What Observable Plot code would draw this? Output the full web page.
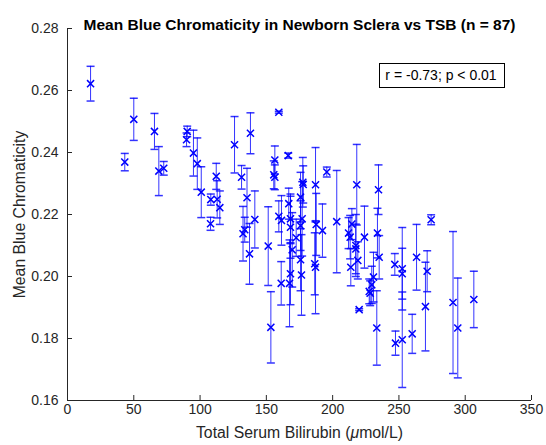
<!DOCTYPE html>
<html><head><meta charset="utf-8">
<script src="https://cdn.jsdelivr.net/npm/d3@7"></script>
<script src="https://cdn.jsdelivr.net/npm/@observablehq/plot@0.6"></script>
<style>html,body{margin:0;padding:0;background:#fff}svg{display:block}</style>
</head><body><div id="chart"></div>
<script>
// Total serum bilirubin (µmol/L)
const tsb = [17.4,43.2,50.0,65.6,68.9,72.6,90.3,89.8,95.0,97.9,
  100.9,108.1,112.2,112.9,114.9,107.9,126.0,131.3,138.0,135.4,
  141.3,132.4,133.7,137.3,151.4,153.4,159.4,156.4,155.6,156.4,
  159.4,161.4,161.2,166.5,166.9,168.2,168.2,169.5,172.5,167.5,
  168.2,175.8,177.5,177.8,177.0,175.8,175.8,176.5,187.1,187.6,
  186.5,187.1,195.6,192.3,203.1,218.2,212.0,213.2,214.5,217.5,
  217.5,219.0,213.7,224.0,220.0,227.6,229.5,230.8,234.6,233.8,
  235.1,233.3,246.9,252.5,252.5,247.4,252.5,263.3,260.0,274.3,
  271.3,270.0,290.8,294.4,306.5,228.3];
// Mean blue chromaticity
const chroma = [0.2622,0.2369,0.2507,0.2468,0.2340,0.2349,0.2468,0.2441,0.2398,0.2364,
  0.2272,0.2248,0.2323,0.2249,0.2222,0.2170,0.2425,0.2320,0.2462,0.2254,
  0.2184,0.2138,0.2151,0.2073,0.2098,0.1836,0.2530,0.2376,0.2328,0.2320,
  0.2194,0.2181,0.1978,0.2390,0.2235,0.2186,0.2159,0.2086,0.2125,0.1978,
  0.2009,0.2256,0.2304,0.2297,0.2186,0.2164,0.2054,0.2005,0.2296,0.2168,
  0.2041,0.2030,0.2337,0.2148,0.2177,0.2296,0.2140,0.2127,0.2169,0.2100,
  0.2089,0.2052,0.2030,0.2127,0.1893,0.1952,0.1973,0.1998,0.2280,0.2140,
  0.2062,0.1834,0.2039,0.2025,0.2009,0.1785,0.1796,0.2062,0.1815,0.2183,
  0.2017,0.1903,0.1916,0.1834,0.1926,0.1946];
// Error bar half-widths
const errHalf = [0.0056,0.0028,0.0068,0.0058,0.0079,0.0022,0.0017,0.0022,0.0074,0.0083,
  0.0082,0.0018,0.0042,0.0060,0.0054,0.0021,0.0091,0.0038,0.0066,0.0095,
  0.0092,0.0088,0.0040,0.0098,0.0127,0.0115,0.0003,0.0045,0.0045,0.0040,
  0.0050,0.0080,0.0070,0.0008,0.0050,0.0080,0.0100,0.0120,0.0060,0.0140,
  0.0100,0.0080,0.0080,0.0060,0.0120,0.0080,0.0100,0.0130,0.0120,0.0100,
  0.0100,0.0150,0.0016,0.0086,0.0165,0.0130,0.0050,0.0070,0.0050,0.0100,
  0.0080,0.0060,0.0060,0.0100,0.0003,0.0040,0.0060,0.0080,0.0080,0.0080,
  0.0070,0.0120,0.0035,0.0133,0.0082,0.0039,0.0154,0.0106,0.0063,0.0016,
  0.0066,0.0143,0.0229,0.0161,0.0091,0.0040];
const xTicks = [0,50,100,150,200,250,300,350];
const yTicks = [0.16,0.18,0.20,0.22,0.24,0.26,0.28];
const titleText = "Mean Blue Chromaticity in Newborn Sclera vs TSB (n = 87)";
const xLabel = "Total Serum Bilirubin (\u03bcmol/L)";
const yLabel = "Mean Blue Chromaticity";
const statText = "r = -0.73; p < 0.01";

const rows = tsb.map((x, i) => ({x, y: chroma[i], e: errHalf[i]}));
const blue = "#0000ff";
const axisColor = "#262626";
const cap = {draw(ctx, size) { const r = Math.sqrt(size / Math.PI); ctx.moveTo(-r, 0); ctx.lineTo(r, 0); }};

const W = 546, H = 445, mL = 67, mR = 15, mT = 28, mB = 45;
const plotW = W - mL - mR, plotH = H - mT - mB;

const chart = Plot.plot({
  width: W, height: H,
  marginLeft: mL, marginRight: mR, marginTop: mT, marginBottom: mB,
  style: {fontFamily: "'Liberation Sans', Arial, Helvetica, sans-serif", fontSize: "14px", background: "#fff"},
  x: {domain: [0, 350], axis: null},
  y: {domain: [0.16, 0.28], axis: null},
  marks: [
    Plot.ruleX(rows, {x: "x", y1: d => d.y - d.e, y2: d => d.y + d.e, stroke: blue, strokeOpacity: 0.8}),
    Plot.dot(rows, {x: "x", y: d => d.y - d.e, symbol: cap, r: 4, stroke: blue, strokeOpacity: 0.8, fill: "none"}),
    Plot.dot(rows, {x: "x", y: d => d.y + d.e, symbol: cap, r: 4, stroke: blue, strokeOpacity: 0.8, fill: "none"}),
    Plot.dot(rows, {x: "x", y: "y", symbol: "times", r: 3.3, stroke: blue, strokeWidth: 1.5}),
    Plot.ruleX([0], {stroke: axisColor}),
    Plot.ruleY([0.16], {stroke: axisColor}),
    Plot.tickX(xTicks, {x: d => d, insetTop: plotH - 5, stroke: axisColor}),
    Plot.tickY(yTicks, {y: d => d, insetRight: plotW - 5, stroke: axisColor}),
    Plot.text(xTicks, {x: d => d, text: d => String(d), frameAnchor: "bottom", dy: 13, fill: axisColor, fontSize: 14}),
    Plot.text(yTicks, {y: d => d, text: d => d.toFixed(2), frameAnchor: "left", dx: -9, textAnchor: "end", fill: axisColor, fontSize: 14}),
    Plot.text([titleText], {text: d => d, frameAnchor: "top", dy: -10, fontWeight: "bold", fontSize: 15.5, fill: "#000"}),
    Plot.text([xLabel], {text: d => d, frameAnchor: "bottom", dy: 37, textAnchor: "middle", fontSize: 15.8, fill: axisColor}),
    Plot.text([yLabel], {text: d => d, frameAnchor: "left", dx: -48, rotate: -90, textAnchor: "middle", fontSize: 15.8, fill: axisColor}),
    Plot.text([statText], {text: d => d, frameAnchor: "top-right", dx: -(plotW - 373.5), dy: 42, textAnchor: "middle", fontSize: 14, fill: "#000"})
  ]
});
document.getElementById("chart").append(chart);

const svg = d3.select(chart);
// italic mu in x label
svg.selectAll("text").filter(function() { return this.textContent === xLabel; }).each(function() {
  const t = d3.select(this);
  t.text(null);
  t.append("tspan").text("Total Serum Bilirubin (");
  t.append("tspan").attr("font-style", "italic").text("\u03bc");
  t.append("tspan").text("mol/L)");
});
// legend box around stat text
svg.selectAll("text").filter(function() { return this.textContent === statText; }).each(function() {
  const bb = this.getBBox();
  const m = this.getCTM();
  const cx = m.e + bb.x + bb.width / 2, cy = m.f + bb.y + bb.height / 2;
  const w = 125, h = 24;
  const g = this.closest("g");
  const rect = document.createElementNS("http://www.w3.org/2000/svg", "rect");
  rect.setAttribute("x", Math.round(cx - w / 2) + 0.5);
  rect.setAttribute("y", Math.round(cy - h / 2) + 0.5);
  rect.setAttribute("width", w);
  rect.setAttribute("height", h);
  rect.setAttribute("fill", "#fff");
  rect.setAttribute("stroke", "#000");
  rect.setAttribute("stroke-width", 1);
  chart.insertBefore(rect, g);
});
</script>
</body></html>
